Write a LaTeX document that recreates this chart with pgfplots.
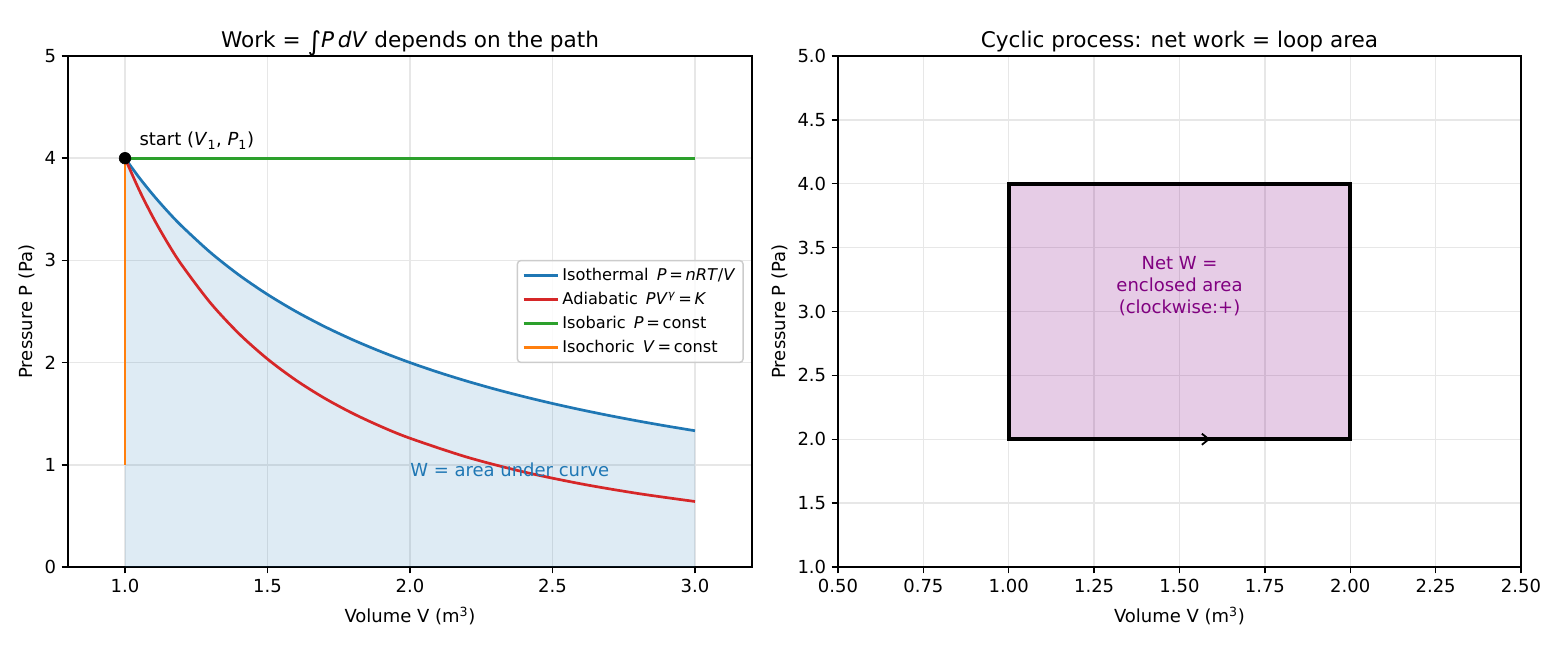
\documentclass[border=0pt]{standalone}
\usepackage{pgfplots}
\pgfplotsset{compat=1.18}
\usepackage{fontspec}
\setmainfont{DejaVu Sans}
\usetikzlibrary{arrows.meta}
\definecolor{tabblue}{HTML}{1F77B4}
\definecolor{tabred}{HTML}{D62728}
\definecolor{tabgreen}{HTML}{2CA02C}
\definecolor{taborange}{HTML}{FF7F0E}
\definecolor{mplpurple}{HTML}{800080}
\definecolor{gridc}{RGB}{231,231,231}
\definecolor{legc}{RGB}{204,204,204}
\begin{document}
\begin{tikzpicture}
\useasboundingbox (0,0) rectangle (1123.2bp,468bp);
\pgfplotsset{
  every axis/.append style={
    scale only axis,
    axis line style={line width=1.04bp},
    tick style={black, line width=1.04bp},
    major tick length=4.55bp,
    tick align=outside,
    xtick pos=bottom, ytick pos=left,
    grid=major,
    major grid style={gridc, line width=1.04bp},
    tick label style={font=\fontsize{13}{15.6}\selectfont},
    xticklabel style={yshift=-1bp},
    yticklabel style={xshift=-0.5bp},
    label style={font=\fontsize{13}{15.6}\selectfont},
    title style={font=\fontsize{15.6}{18}\selectfont, yshift=-6.5bp},
    /pgf/number format/assume math mode=true,
    xlabel style={yshift=-3.5bp},
    ylabel style={yshift=0bp},
  }
}
\begin{axis}[
  at={(48.96bp,59.76bp)}, anchor=south west,
  width=492.48bp, height=367.92bp,
  xmin=0.8, xmax=3.2, ymin=0, ymax=5,
  xtick={1.0,1.5,2.0,2.5,3.0},
  ytick={0,1,2,3,4,5},
  xticklabel style={/pgf/number format/.cd, fixed, fixed zerofill, precision=1},
  title={Work = \smash{\raisebox{-2bp}{\fontsize{19}{19}\selectfont ∫}}\textit{P}\,\textit{dV} depends on the path},
  xlabel={Volume V (m\textsuperscript{3})},
  ylabel={Pressure P (Pa)},
  legend cell align=left,
  legend style={at={(0.988,0.5)}, anchor=east, draw=legc, rounded corners=2.5bp,
    font=\fontsize{11.7}{14}\selectfont, fill=white, fill opacity=0.8, text opacity=1,
    inner sep=3.5bp, row sep=3bp, line width=1.04bp},
  legend image code/.code={\draw[#1] (0bp,0bp) -- (25bp,0bp);},
]
\addplot[draw=none, fill=tabblue, fill opacity=0.15, smooth, forget plot] coordinates {
(1.0,4.0) (1.05,3.8095) (1.1,3.6364) (1.15,3.4783) (1.2,3.3333) (1.3,3.0769) (1.4,2.8571) (1.5,2.6667)
(1.6,2.5) (1.7,2.3529) (1.8,2.2222) (1.9,2.1053) (2.0,2.0) (2.1,1.9048) (2.2,1.8182)
(2.3,1.7391) (2.4,1.6667) (2.5,1.6) (2.6,1.5385) (2.7,1.4815) (2.8,1.4286) (2.9,1.3793) (3.0,1.3333)
} \closedcycle;
\addplot[tabblue, line width=1.95bp, smooth] coordinates {
(1.0,4.0) (1.05,3.8095) (1.1,3.6364) (1.15,3.4783) (1.2,3.3333) (1.3,3.0769) (1.4,2.8571) (1.5,2.6667)
(1.6,2.5) (1.7,2.3529) (1.8,2.2222) (1.9,2.1053) (2.0,2.0) (2.1,1.9048) (2.2,1.8182)
(2.3,1.7391) (2.4,1.6667) (2.5,1.6) (2.6,1.5385) (2.7,1.4815) (2.8,1.4286) (2.9,1.3793) (3.0,1.3333)
};
\addlegendentry{Isothermal\enspace\textit{P}\,=\,\textit{nRT}/\textit{V}}
\addplot[tabred, line width=1.95bp, smooth] coordinates {
(1.0,4.0) (1.05,3.6876) (1.1,3.4125) (1.15,3.1688) (1.2,2.9518) (1.3,2.5831) (1.4,2.2829) (1.5,2.0350)
(1.6,1.8275) (1.7,1.6518) (1.8,1.5018) (1.9,1.3724) (2.0,1.2599) (2.2,1.0749) (2.4,0.9297)
(2.6,0.8137) (2.8,0.7191) (3.0,0.6410)
};
\addlegendentry{Adiabatic\enspace\textit{PV}\textsuperscript{\textit{γ}}\,=\,\textit{K}}
\addplot[tabgreen, line width=1.95bp] coordinates {(1,4) (3,4)};
\addlegendentry{Isobaric\enspace\textit{P}\,=\,const}
\addplot[taborange, line width=1.95bp] coordinates {(1,4) (1,1)};
\addlegendentry{Isochoric\enspace\textit{V}\,=\,const}
\addplot[only marks, mark=*, mark size=4.2bp, black, forget plot] coordinates {(1,4)};
\node[anchor=base west, font=\fontsize{13}{15.6}\selectfont, inner sep=0pt] at (axis cs:1.05,4.12) {start (\textit{V}\textsubscript{1}, \textit{P}\textsubscript{1})};
\node[anchor=west, font=\fontsize{13}{15.6}\selectfont, text=tabblue, inner sep=0pt] at (axis cs:2.0,0.95) {W = area under curve};
\end{axis}

\begin{axis}[
  at={(603.36bp,59.76bp)}, anchor=south west,
  width=491.76bp, height=367.92bp,
  xmin=0.5, xmax=2.5, ymin=1, ymax=5,
  xtick={0.5,0.75,1.0,1.25,1.5,1.75,2.0,2.25,2.5},
  ytick={1.0,1.5,2.0,2.5,3.0,3.5,4.0,4.5,5.0},
  xticklabel style={/pgf/number format/.cd, fixed, fixed zerofill, precision=2},
  yticklabel style={/pgf/number format/.cd, fixed, fixed zerofill, precision=1},
  title={Cyclic process: net work = loop area},
  xlabel={Volume V (m\textsuperscript{3})},
  ylabel={Pressure P (Pa)},
]
\addplot[draw=black, line width=2.6bp, fill=mplpurple, fill opacity=0.2] coordinates {(1,2) (1,4) (2,4) (2,2)} -- cycle;
\addplot[black, line width=1.3bp, -{Straight Barb[length=5bp,width=8bp]}] coordinates {(1.45,2) (1.59,2)};
\node[align=center, font=\fontsize{13}{16}\selectfont, text=mplpurple] at (axis cs:1.5,3.2) {Net W =\\enclosed area\\(clockwise:+)};
\end{axis}
\end{tikzpicture}
\end{document}
